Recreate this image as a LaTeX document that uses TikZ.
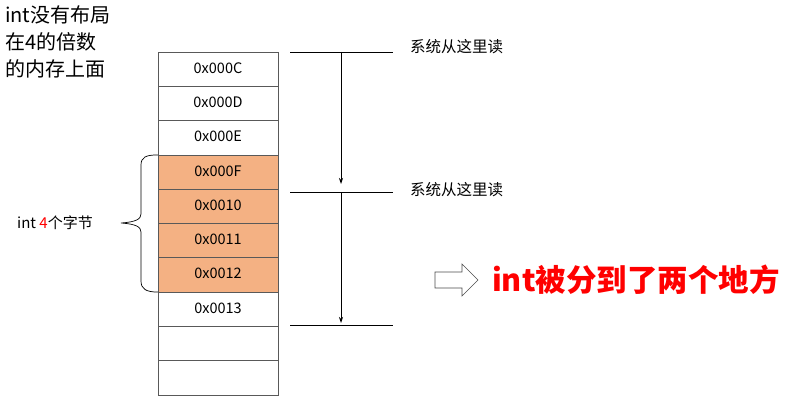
\documentclass[tikz,border=0pt]{standalone}
\usepackage{fontspec}
\setmainfont{Noto Sans CJK SC}
\usetikzlibrary{arrows.meta}
\definecolor{cellorange}{HTML}{F4B183}
\definecolor{cellline}{HTML}{595959}
\tikzset{
  cell/.style={draw=cellline, line width=0.8pt, minimum width=120pt, minimum height=34.3pt, inner sep=0pt, outer sep=0pt, font=\fontsize{14.5}{16}\selectfont},
  hot/.style={cell, fill=cellorange},
  readline/.style={line width=0.8pt},
  readarrow/.style={line width=0.8pt, -{Stealth[length=6pt,width=4pt]}},
  readlabel/.style={anchor=west, inner sep=0pt, font=\fontsize{15.5}{17}\selectfont},
}
\begin{document}
\begin{tikzpicture}[x=1pt,y=-1pt]
\useasboundingbox (0,0) rectangle (790,412);
% memory cells
\foreach \i/\t/\s in {0/0x000C/cell,1/0x000D/cell,2/0x000E/cell,3/0x000F/hot,4/0x0010/hot,5/0x0011/hot,6/0x0012/hot,7/0x0013/cell,8/{}/cell,9/{}/cell}{
  \node[\s] (c\i) at (218,{52+34.3*(\i+0.5)}) {\raisebox{2.5pt}{\t}};
}
% top-left note
\node[anchor=north west, align=left, inner sep=0pt, font=\fontsize{20}{27}\selectfont] (note) at (5,5) {int没有布局\\在4的倍数\\的内存上面};
% read lines
\coordinate (l1a) at (290,52); \coordinate (l1b) at (393,52);
\coordinate (l2a) at (290,192); \coordinate (l2b) at (393,192);
\coordinate (l3a) at (290,325); \coordinate (l3b) at (393,325);
\draw[readline] (l1a) -- (l1b);
\draw[readline] (l2a) -- (l2b);
\draw[readline] (l3a) -- (l3b);
\coordinate (v1s) at (341,52); \coordinate (v1e) at (341,184);
\coordinate (v2s) at (341,192); \coordinate (v2e) at (341,323);
\draw[readarrow] (v1s) -- (v1e);
\draw[readarrow] (v2s) -- (v2e);
\node[readlabel] (r1) at (410,47) {系统从这里读};
\node[readlabel] (r2) at (410,190) {系统从这里读};
% brace
\draw[line width=0.7pt] (c3.north west) .. controls (146,155) and (141,157) .. (141,165)
  -- (141,214) .. controls (141,219) and (136,222) .. (121,223)
  .. controls (136,224) and (141,227) .. (141,232)
  -- (141,281) .. controls (141,289) and (146,292) .. (c6.south west);
\node[anchor=west, inner sep=0pt, font=\fontsize{15}{17}\selectfont] (intlbl) at (17,223) {int \textcolor{red}{4}个字节};
% block arrow
\draw[line width=0.6pt, draw=black!70, fill=white] (435,272) -- (462,272) -- (462,264) -- (478,280) -- (462,296) -- (462,288) -- (435,288) -- cycle;
\coordinate (barrow) at (478,280);
\node[anchor=west, inner sep=0pt, text=red, font=\fontsize{30.5}{33}\selectfont\bfseries] (result) at (492,280) {int被分到了两个地方};
\end{tikzpicture}
\end{document}
